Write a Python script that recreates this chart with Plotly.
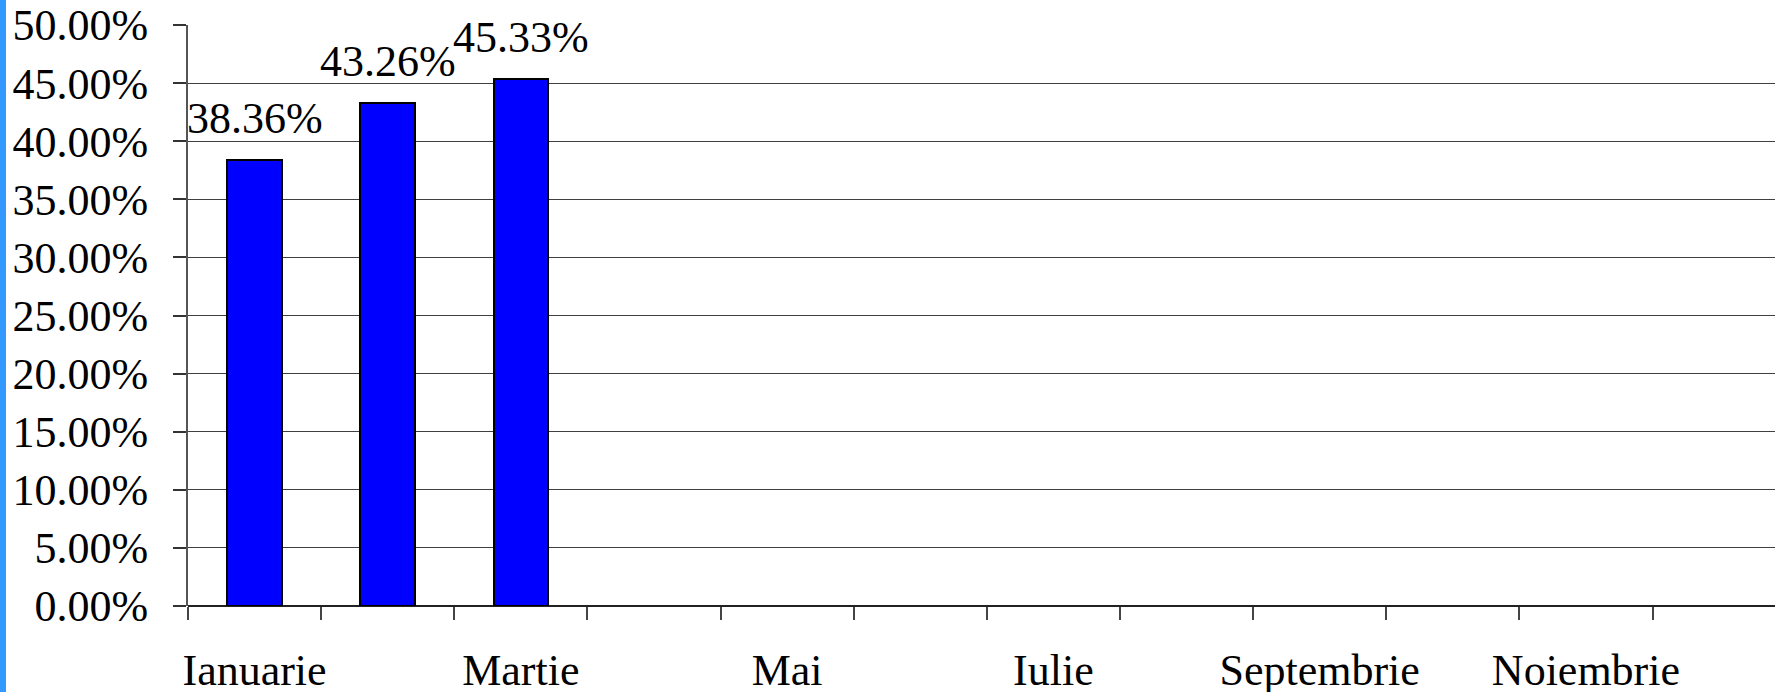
import plotly.graph_objects as go

months = ["Ianuarie", "Februarie", "Martie", "Aprilie", "Mai", "Iunie",
          "Iulie", "August", "Septembrie", "Octombrie", "Noiembrie", "Decembrie"]
values = [38.36, 43.26, 45.33, None, None, None, None, None, None, None, None, None]
y_ticks = [0, 5, 10, 15, 20, 25, 30, 35, 40, 45, 50]
y_tick_text = [f"{v:.2f}%" for v in y_ticks]

idx = list(range(len(months)))
label_idx = idx[::2]
label_text = [months[i] for i in label_idx]

W, H = 1775, 692
ML, MT, MB, MR = 188, 25, 86, 0
FONT = "Liberation Serif"

fig = go.Figure()
fig.add_trace(go.Bar(
    x=idx, y=values, width=0.41,
    marker=dict(color="#0000FF", line=dict(color="#000000", width=2)),
    hoverinfo="skip",
))

for i, v in zip(idx, values):
    if v is None:
        continue
    fig.add_annotation(x=i, y=v, text=f"{v:.2f}%", showarrow=False,
                       xanchor="center", yanchor="bottom", yshift=15,
                       font=dict(family=FONT, size=44, color="#000000"))

pw = W - ML - MR
ph = H - MT - MB
fig.add_shape(type="rect", xref="paper", yref="paper",
              x0=-ML / pw - 0.001, x1=(6 - ML) / pw, y0=-MB / ph - 0.01, y1=1 + MT / ph + 0.01,
              fillcolor="#3399FF", line=dict(width=0), layer="above")

fig.update_layout(
    width=W, height=H,
    margin=dict(l=ML, r=MR, t=MT, b=MB, pad=0, autoexpand=False),
    paper_bgcolor="#FFFFFF", plot_bgcolor="#FFFFFF",
    showlegend=False,
    font=dict(family=FONT, size=44, color="#000000"),
    bargap=0,
)
fig.update_xaxes(
    automargin=False,
    range=[-0.5, 11.42],
    tickmode="array", tickvals=label_idx, ticktext=label_text,
    ticks="outside", ticklen=13, tickcolor="rgba(0,0,0,0)",
    ticklabelstandoff=12,
    tickfont=dict(family=FONT, size=44, color="#000000"),
    showgrid=False, zeroline=False,
    showline=False,
    minor=dict(tick0=-0.5, dtick=1, ticks="outside", ticklen=13,
               tickwidth=1.5, tickcolor="#444444", showgrid=False),
)
fig.update_yaxes(
    automargin=False,
    range=[0, 50],
    tickmode="array", tickvals=y_ticks, ticktext=y_tick_text,
    ticks="outside", ticklen=13, tickwidth=1.5, tickcolor="#333333",
    ticklabelstandoff=16,
    tickfont=dict(family=FONT, size=44, color="#000000"),
    showgrid=True, gridcolor="#404040", gridwidth=1,
    zeroline=True, zerolinecolor="#222222", zerolinewidth=2,
    showline=True, linecolor="#555555", linewidth=2,
)

fig.write_html("out.html", config={"displayModeBar": False},
               post_script="document.body.style.margin='0';document.body.style.overflow='hidden';")
